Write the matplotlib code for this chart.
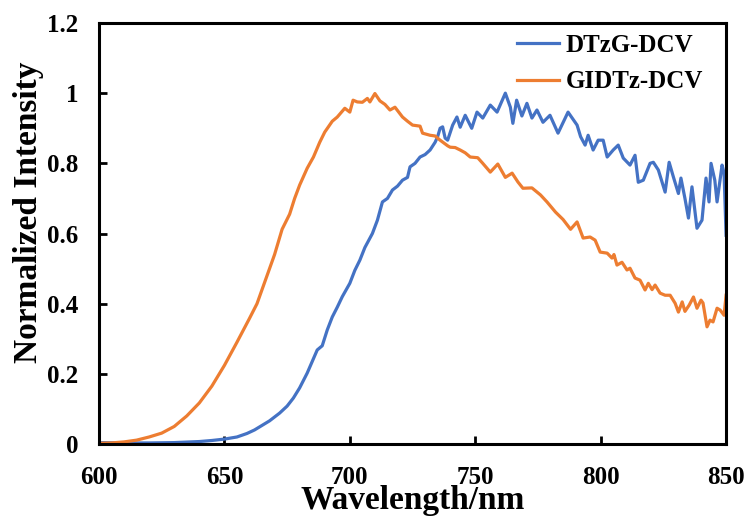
import matplotlib
matplotlib.use("Agg")
import matplotlib.pyplot as plt

# Emission spectra, normalized intensity vs wavelength (nm)
gidtz_wl = [600, 605, 610, 615, 620, 625, 630, 635, 640, 645, 650, 655, 660, 663,
            665, 668, 670, 673, 676, 678, 680, 683, 685.5, 688, 690, 693, 695, 698,
            700, 701.3, 703, 705, 707, 708, 710, 712, 714, 716, 718, 721, 723, 725,
            728, 729, 732, 734, 736, 739, 740, 742, 744, 746, 748, 751, 753, 756,
            759, 762, 764.7, 767, 769, 772.6, 776, 778.6, 782, 785, 788, 790.6, 793,
            795.8, 797.8, 799.8, 802.6, 804.5, 805.3, 806.5, 808.5, 810.5, 811.7,
            813.7, 815.7, 817.7, 819, 820.5, 821.7, 823.7, 825.7, 827.7, 829.7, 831,
            832.5, 833.6, 835.3, 837, 838.4, 840, 840.8, 842.4, 843.6, 844.8, 846.4,
            847.6, 849.2, 850]
gidtz_int = [0.002, 0.003, 0.006, 0.011, 0.020, 0.031, 0.050, 0.080, 0.117, 0.165,
             0.224, 0.290, 0.358, 0.400, 0.440, 0.500, 0.540, 0.612, 0.655, 0.700,
             0.738, 0.786, 0.818, 0.860, 0.889, 0.920, 0.932, 0.957, 0.946, 0.980,
             0.975, 0.974, 0.985, 0.975, 0.999, 0.978, 0.968, 0.952, 0.960, 0.932,
             0.920, 0.909, 0.906, 0.886, 0.880, 0.878, 0.866, 0.850, 0.846, 0.845,
             0.838, 0.830, 0.818, 0.816, 0.800, 0.775, 0.798, 0.760, 0.772, 0.747,
             0.729, 0.730, 0.710, 0.690, 0.661, 0.640, 0.612, 0.633, 0.587, 0.590,
             0.581, 0.547, 0.544, 0.530, 0.540, 0.510, 0.518, 0.496, 0.501, 0.473,
             0.467, 0.439, 0.458, 0.440, 0.453, 0.430, 0.424, 0.424, 0.401, 0.376,
             0.405, 0.378, 0.396, 0.419, 0.387, 0.410, 0.402, 0.334, 0.353, 0.348,
             0.387, 0.382, 0.367, 0.424]

dtzg_wl = [600, 610, 620, 630, 640, 645, 650, 655, 659, 662, 665, 668, 672, 675,
           677.5, 680, 683, 685, 687, 689, 691, 693, 695, 697, 700, 702, 704, 706,
           709, 711, 713, 715, 717, 719, 721, 723, 724, 726, 728, 730, 732, 734, 735,
           736, 737, 738, 739, 741, 742.7, 744, 746, 748.6, 750.7, 753, 756, 758.7,
           762, 764, 765, 766.5, 768.6, 770.6, 772.6, 774.6, 777, 779.8, 783, 787,
           790.6, 792, 793.8, 795, 797, 799, 801, 802.6, 805, 807, 809, 811.7, 813.7,
           815, 817, 819.7, 821, 823, 825.7, 827.3, 829, 831, 832, 833.6, 835, 836.4,
           838.4, 840.4, 842, 843.2, 844, 845.5, 846.4, 848.4, 849.2, 850]
dtzg_int = [0.004, 0.003, 0.003, 0.004, 0.007, 0.010, 0.014, 0.020, 0.030, 0.040,
            0.053, 0.066, 0.088, 0.108, 0.131, 0.160, 0.202, 0.235, 0.268, 0.280,
            0.325, 0.362, 0.390, 0.420, 0.458, 0.495, 0.524, 0.560, 0.600, 0.638,
            0.690, 0.700, 0.724, 0.735, 0.752, 0.760, 0.790, 0.800, 0.818, 0.825,
            0.838, 0.860, 0.876, 0.900, 0.904, 0.872, 0.866, 0.909, 0.932, 0.903,
            0.937, 0.900, 0.946, 0.929, 0.966, 0.946, 1.000, 0.960, 0.914, 0.980,
            0.935, 0.971, 0.929, 0.952, 0.917, 0.937, 0.886, 0.946, 0.909, 0.876,
            0.852, 0.880, 0.838, 0.866, 0.866, 0.818, 0.838, 0.852, 0.815, 0.795,
            0.823, 0.746, 0.752, 0.800, 0.803, 0.781, 0.718, 0.803, 0.761, 0.714,
            0.758, 0.700, 0.644, 0.733, 0.615, 0.638, 0.758, 0.690, 0.800, 0.752,
            0.690, 0.795, 0.772, 0.595]

x_ticks = [600, 650, 700, 750, 800, 850]
y_ticks = [0, 0.2, 0.4, 0.6, 0.8, 1.0, 1.2]
y_tick_labels = ["0", "0.2", "0.4", "0.6", "0.8", "1", "1.2"]

plt.rcParams["font.family"] = ["Liberation Serif", "DejaVu Serif"]
plt.rcParams["font.weight"] = "bold"

fig = plt.figure(figsize=(7.47, 5.17), dpi=100)
ax = fig.add_axes([0.1325, 0.1412, 0.8395, 0.8143])

ax.plot(dtzg_wl, dtzg_int, color="#4472C4", lw=2.3, label="DTzG-DCV")
ax.plot(gidtz_wl, gidtz_int, color="#ED7D31", lw=2.3, label="GIDTz-DCV")

ax.set_xlim(600, 850)
ax.set_ylim(0, 1.2)
ax.set_xticks(x_ticks)
ax.set_xticklabels([str(v) for v in x_ticks])
ax.set_yticks(y_ticks)
ax.set_yticklabels(y_tick_labels)

for s in ax.spines.values():
    s.set_linewidth(2.2)
ax.tick_params(axis="both", direction="in", length=6, width=2, labelsize=18)
ax.tick_params(axis="x", pad=16)
ax.tick_params(axis="y", pad=15)
for lbl in ax.get_xticklabels() + ax.get_yticklabels():
    lbl.set_fontweight("bold")

ax.set_xlabel("Wavelength/nm", fontsize=24, fontweight="bold")
ax.xaxis.set_label_coords(0.5, -0.097)
ax.set_ylabel("Normalized Intensity", fontsize=24, fontweight="bold")
ax.yaxis.set_label_coords(-0.088, 0.551)

leg = ax.legend(loc="upper left", bbox_to_anchor=(0.666, 0.975), frameon=False,
                prop={"size": 18, "weight": "bold"}, handlelength=1.7,
                handletextpad=0.25, labelspacing=0.55, borderaxespad=0.0,
                borderpad=0.0)

fig.savefig("out.png", dpi=100)
